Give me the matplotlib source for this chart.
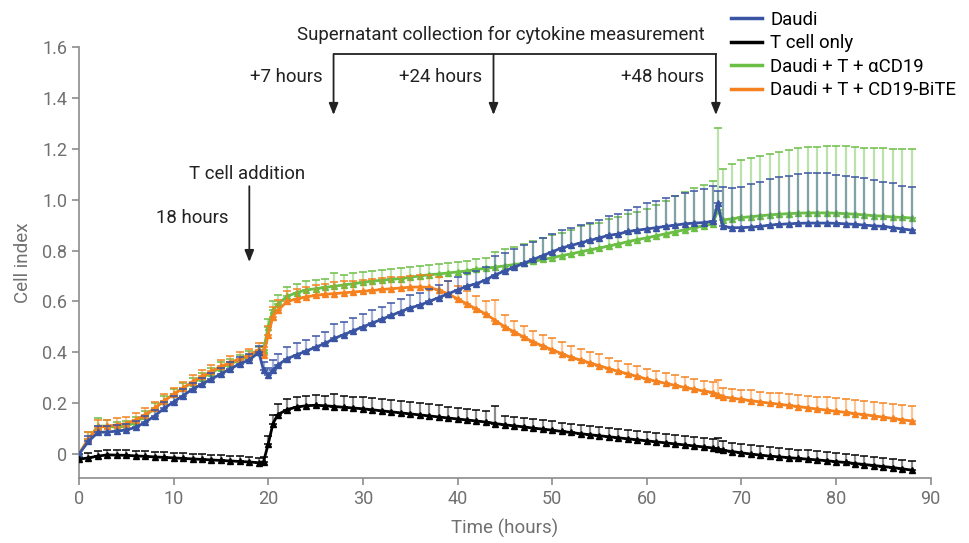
import matplotlib
matplotlib.use("Agg")
import matplotlib.pyplot as plt
from matplotlib.lines import Line2D
from matplotlib.ticker import FuncFormatter

plt.rcParams['font.family'] = ['Roboto', 'DejaVu Sans']

# sample times (hours)
hours = (list(range(0, 20)) + [19.5, 20, 20.5] + list(range(21, 68)) + [67.5]
         + list(range(68, 89)))

daudi = [0.0, 0.05, 0.085, 0.087, 0.09, 0.095, 0.105, 0.125, 0.15, 0.18,
         0.205, 0.23, 0.255, 0.275, 0.295, 0.315, 0.335, 0.355, 0.37, 0.40,
         0.33, 0.31, 0.33,
         0.35, 0.375, 0.39, 0.405, 0.42, 0.435, 0.455, 0.47, 0.485, 0.50,
         0.515, 0.53, 0.545, 0.56, 0.575, 0.585, 0.60, 0.615, 0.63, 0.645,
         0.66, 0.67, 0.685, 0.705, 0.72, 0.735, 0.75, 0.765, 0.78, 0.795,
         0.81, 0.82, 0.83, 0.84, 0.85, 0.86, 0.865, 0.875, 0.88, 0.885,
         0.89, 0.895, 0.90, 0.905, 0.908, 0.91, 0.915,
         0.985,
         0.895, 0.89, 0.89, 0.892, 0.895, 0.90, 0.903, 0.905, 0.907, 0.908,
         0.908, 0.908, 0.907, 0.905, 0.903, 0.90, 0.897, 0.895, 0.89, 0.885, 0.88]
daudi_err = [0.0, 0.02, 0.025, 0.025, 0.025, 0.025, 0.025, 0.025, 0.025, 0.025,
             0.025, 0.025, 0.025, 0.025, 0.025, 0.025, 0.025, 0.025, 0.025, 0.025,
             0.03, 0.03, 0.04,
             0.045, 0.045, 0.045, 0.045, 0.045, 0.045, 0.055, 0.05, 0.05, 0.05,
             0.05, 0.05, 0.05, 0.05, 0.05, 0.05, 0.05, 0.05, 0.05, 0.05,
             0.05, 0.05, 0.05, 0.075, 0.072, 0.07, 0.07, 0.07, 0.07, 0.07,
             0.07, 0.07, 0.07, 0.07, 0.072, 0.076, 0.08, 0.085, 0.09, 0.10,
             0.105, 0.11, 0.115, 0.12, 0.125, 0.13, 0.14,
             0.05,
             0.155, 0.155, 0.16, 0.17, 0.175, 0.18, 0.185, 0.19, 0.195, 0.195,
             0.195, 0.195, 0.19, 0.19, 0.185, 0.185, 0.18, 0.175, 0.175, 0.17, 0.17]

tcell = [-0.02, -0.015, -0.008, -0.003, -0.004, -0.005, -0.007, -0.009, -0.011, -0.013,
         -0.015, -0.017, -0.019, -0.021, -0.023, -0.025, -0.027, -0.029, -0.031, -0.034,
         -0.03, 0.04, 0.12,
         0.155, 0.175, 0.185, 0.19, 0.192, 0.19, 0.187, 0.184, 0.181, 0.178,
         0.174, 0.17, 0.166, 0.162, 0.158, 0.154, 0.15, 0.146, 0.142, 0.138,
         0.134, 0.13, 0.126, 0.12, 0.115, 0.111, 0.107, 0.102, 0.098, 0.094,
         0.089, 0.085, 0.08, 0.076, 0.072, 0.068, 0.064, 0.06, 0.056, 0.052,
         0.048, 0.044, 0.04, 0.036, 0.032, 0.028, 0.024,
         0.02,
         0.015, 0.01, 0.005, 0.0, -0.004, -0.008, -0.011, -0.014, -0.017, -0.02,
         -0.023, -0.026, -0.03, -0.033, -0.037, -0.041, -0.045, -0.049, -0.053, -0.058, -0.063]
tcell_err = [0.0, 0.02, 0.02, 0.02, 0.02, 0.02, 0.02, 0.02, 0.02, 0.02,
             0.02, 0.02, 0.02, 0.02, 0.02, 0.02, 0.02, 0.02, 0.02, 0.02,
             0.02, 0.03, 0.035,
             0.04, 0.04, 0.04, 0.04, 0.04, 0.04, 0.05, 0.045, 0.045, 0.045,
             0.045, 0.045, 0.045, 0.045, 0.045, 0.045, 0.045, 0.045, 0.045, 0.045,
             0.045, 0.045, 0.045, 0.07, 0.035, 0.035, 0.035, 0.035, 0.035, 0.035,
             0.035, 0.035, 0.035, 0.035, 0.035, 0.035, 0.035, 0.035, 0.035, 0.035,
             0.035, 0.035, 0.035, 0.035, 0.035, 0.035, 0.035,
             0.045,
             0.035, 0.035, 0.035, 0.035, 0.035, 0.035, 0.035, 0.035, 0.035, 0.035,
             0.035, 0.035, 0.035, 0.035, 0.035, 0.035, 0.035, 0.035, 0.035, 0.035, 0.035]

acd19 = [0.0, 0.06, 0.11, 0.11, 0.105, 0.11, 0.125, 0.15, 0.18, 0.21,
         0.235, 0.26, 0.28, 0.30, 0.32, 0.34, 0.355, 0.37, 0.385, 0.40,
         0.41, 0.50, 0.565,
         0.59, 0.62, 0.635, 0.645, 0.65, 0.655, 0.66, 0.665, 0.67, 0.675,
         0.68, 0.683, 0.687, 0.69, 0.695, 0.70, 0.705, 0.708, 0.712, 0.716,
         0.72, 0.726, 0.73, 0.735, 0.74, 0.745, 0.75, 0.757, 0.765, 0.772,
         0.78, 0.787, 0.795, 0.803, 0.81, 0.818, 0.826, 0.835, 0.843, 0.85,
         0.858, 0.866, 0.874, 0.882, 0.89, 0.897, 0.905,
         0.96,
         0.92, 0.925, 0.93, 0.933, 0.937, 0.94, 0.943, 0.945, 0.947, 0.948,
         0.948, 0.948, 0.947, 0.945, 0.943, 0.94, 0.937, 0.935, 0.932, 0.93, 0.928]
acd19_err = [0.0, 0.025, 0.03, 0.025, 0.02, 0.02, 0.02, 0.02, 0.02, 0.02,
             0.02, 0.02, 0.02, 0.02, 0.02, 0.02, 0.02, 0.02, 0.02, 0.02,
             0.025, 0.03, 0.035,
             0.035, 0.035, 0.035, 0.035, 0.035, 0.035, 0.05, 0.04, 0.04, 0.04,
             0.04, 0.04, 0.04, 0.04, 0.04, 0.04, 0.04, 0.04, 0.04, 0.04,
             0.04, 0.04, 0.04, 0.06, 0.065, 0.07, 0.075, 0.08, 0.085, 0.09,
             0.09, 0.095, 0.10, 0.10, 0.10, 0.105, 0.105, 0.11, 0.11, 0.115,
             0.12, 0.13, 0.14, 0.15, 0.155, 0.16, 0.17,
             0.32,
             0.20, 0.215, 0.225, 0.23, 0.235, 0.24, 0.245, 0.25, 0.255, 0.258,
             0.26, 0.262, 0.263, 0.265, 0.265, 0.265, 0.266, 0.267, 0.268, 0.27, 0.272]

bite = [0.0, 0.06, 0.105, 0.11, 0.115, 0.12, 0.135, 0.155, 0.18, 0.21,
        0.235, 0.26, 0.285, 0.305, 0.325, 0.345, 0.36, 0.375, 0.39, 0.41,
        0.39, 0.47, 0.54,
        0.565, 0.60, 0.61, 0.618, 0.624, 0.628, 0.631, 0.634, 0.637, 0.64,
        0.643, 0.647, 0.65, 0.653, 0.656, 0.657, 0.655, 0.645, 0.63, 0.61,
        0.59, 0.57, 0.55, 0.525, 0.50, 0.48, 0.46, 0.44, 0.425, 0.41,
        0.395, 0.38, 0.37, 0.358, 0.347, 0.336, 0.325, 0.315, 0.305, 0.295,
        0.286, 0.278, 0.27, 0.262, 0.255, 0.248, 0.242,
        0.232,
        0.225, 0.22, 0.215, 0.21, 0.205, 0.2, 0.196, 0.191, 0.187, 0.182,
        0.177, 0.173, 0.168, 0.164, 0.159, 0.155, 0.15, 0.145, 0.14, 0.135, 0.13]
bite_err = [0.0, 0.025, 0.03, 0.025, 0.025, 0.025, 0.025, 0.025, 0.025, 0.025,
            0.025, 0.025, 0.025, 0.025, 0.025, 0.025, 0.025, 0.025, 0.025, 0.025,
            0.03, 0.035, 0.04,
            0.04, 0.04, 0.04, 0.04, 0.04, 0.04, 0.045, 0.045, 0.045, 0.045,
            0.045, 0.045, 0.045, 0.045, 0.045, 0.045, 0.05, 0.05, 0.05, 0.05,
            0.05, 0.05, 0.05, 0.08, 0.045, 0.045, 0.045, 0.045, 0.045, 0.045,
            0.045, 0.045, 0.045, 0.045, 0.045, 0.04, 0.04, 0.04, 0.04, 0.04,
            0.04, 0.04, 0.04, 0.04, 0.04, 0.04, 0.04,
            0.06,
            0.035, 0.036, 0.038, 0.04, 0.04, 0.042, 0.043, 0.045, 0.046, 0.047,
            0.048, 0.05, 0.051, 0.052, 0.053, 0.054, 0.055, 0.056, 0.057, 0.058, 0.06]

labels = ["Daudi", "T cell only", "Daudi + T + \u03b1CD19", "Daudi + T + CD19-BiTE"]
colors = ["#3a54a4", "#000000", "#6bbf45", "#f5821f"]

fig = plt.figure(figsize=(9.69, 5.43), dpi=100)
ax = fig.add_axes([0.0815, 0.1197, 0.879, 0.7937])


def draw(y, err, color, z):
    lower = [0 for _ in err]
    line, caps, bars = ax.errorbar(hours, y, yerr=[lower, err], color=color,
                                   marker='^', ms=4, lw=2.0, capsize=3,
                                   elinewidth=1.6, capthick=1.1, zorder=z)
    bars[0].set_alpha(0.45)


draw(acd19, acd19_err, colors[2], 2)
draw(bite, bite_err, colors[3], 3)
draw(daudi, daudi_err, colors[0], 4)
draw(tcell, tcell_err, colors[1], 5)

ax.set_xlim(0, 90)
ax.set_ylim(-0.094, 1.6)
ax.set_xticks(range(0, 91, 10))
ax.set_yticks([0, 0.2, 0.4, 0.6, 0.8, 1.0, 1.2, 1.4, 1.6])
ax.yaxis.set_major_formatter(FuncFormatter(lambda v, p: "0" if abs(v) < 1e-9 else f"{v:.1f}"))

grey = "#8c8c8c"
for s in ["top", "right"]:
    ax.spines[s].set_visible(False)
for s in ["left", "bottom"]:
    ax.spines[s].set_color(grey)
    ax.spines[s].set_linewidth(1.2)
ax.tick_params(colors=grey, labelcolor="#707070", labelsize=13, length=5, width=1.2)
ax.set_xlabel("Time (hours)", fontsize=13.5, color="#707070", labelpad=8)
ax.set_ylabel("Cell index", fontsize=13.5, color="#707070", labelpad=7)

# annotations
ink = "#222222"
fs = 13.4
arrow = dict(arrowstyle='-|>,head_length=0.7,head_width=0.28', color=ink, lw=1.3,
             shrinkA=0, shrinkB=0)
collect_x = [26.9, 43.8, 67.3]
collect_txt = ["+7 hours", "+24 hours", "+48 hours"]
ax.plot([collect_x[0], collect_x[-1]], [1.572, 1.572], color=ink, lw=1.3, clip_on=False)
for cx, txt in zip(collect_x, collect_txt):
    ax.annotate("", xy=(cx, 1.333), xytext=(cx, 1.572), arrowprops=arrow, annotation_clip=False)
    ax.text(cx - 1.2, 1.482, txt, ha="right", va="center", fontsize=fs, color=ink)
ax.text(44.6, 1.647, "Supernatant collection for cytokine measurement", ha="center",
        va="center", fontsize=fs, color=ink, clip_on=False)

ax.annotate("", xy=(18.0, 0.755), xytext=(18.0, 1.053), arrowprops=arrow)
ax.text(17.8, 1.10, "T cell addition", ha="center", va="center", fontsize=fs, color=ink)
ax.text(12.0, 0.928, "18 hours", ha="center", va="center", fontsize=fs, color=ink)

handles = [Line2D([], [], color=c, lw=2.5) for c in colors]
fig.legend(handles, labels, loc="upper left", bbox_to_anchor=(0.747, 0.994),
           frameon=False, fontsize=fs, handlelength=1.65, handletextpad=0.45,
           labelspacing=0.3, borderaxespad=0)

fig.savefig("out.png", dpi=100)
